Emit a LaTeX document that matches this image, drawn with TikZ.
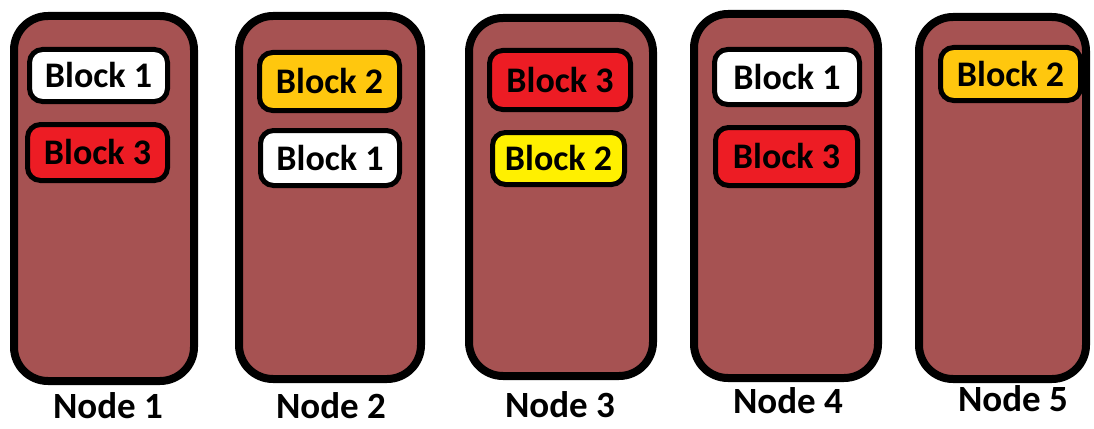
\documentclass[tikz,border=0pt]{standalone}
\usepackage{fontspec}
\setmainfont{Carlito}
\usepackage{tikz}
\usetikzlibrary{positioning}

\definecolor{nodefill}{RGB}{166,82,82}
\definecolor{blkred}{RGB}{237,28,36}
\definecolor{blkgold}{RGB}{255,199,14}
\definecolor{blkyellow}{RGB}{255,240,0}

\begin{document}
\begin{tikzpicture}[x=1pt, y=-1pt,
		server/.style={draw=black, fill=nodefill, line width=8pt, rounded corners=34pt, inner sep=0pt},
		block/.style={draw=black, line width=5pt, rounded corners=13pt, inner sep=0pt, font=\fontsize{36}{40}\selectfont\bfseries},
		label/.style={anchor=base, inner sep=0pt, font=\fontsize{37}{40}\selectfont\bfseries}]
			\useasboundingbox (0,0) rectangle (1094,428);
			% the five machines
			\node[server, minimum width=180pt, minimum height=365pt] (n1) at (104,198.5) {};
			\node[server, minimum width=182pt, minimum height=363pt] (n2) at (330,197.5) {};
			\node[server, minimum width=184pt, minimum height=358pt] (n3) at (561,197) {};
			\node[server, minimum width=184pt, minimum height=364pt] (n4) at (786,196) {};
			\node[server, minimum width=167pt, minimum height=362pt] (n5) at (1002.5,198) {};
			% blocks held by each machine
			\node[block, fill=white, minimum width=138pt, minimum height=52pt] (n1b1) at (98.5,75.5) {Block 1};
			\node[block, fill=blkred, minimum width=140pt, minimum height=56pt] (n1b3) at (97.5,152.5) {Block 3};
			\node[block, fill=blkgold, minimum width=140pt, minimum height=58pt] (n2b2) at (329.5,81.5) {Block 2};
			\node[block, fill=white, minimum width=139pt, minimum height=55pt] (n2b1) at (330,158) {Block 1};
			\node[block, fill=blkred, minimum width=141pt, minimum height=59pt] (n3b3) at (560,80) {Block 3};
			\node[block, fill=blkyellow, minimum width=132pt, minimum height=52pt] (n3b2) at (558.5,158.5) {Block 2};
			\node[block, fill=white, minimum width=145pt, minimum height=55pt] (n4b1) at (787,77) {Block 1};
			\node[block, fill=blkred, minimum width=142pt, minimum height=58pt] (n4b3) at (786.5,156.5) {Block 3};
			\node[block, fill=blkgold, minimum width=140pt, minimum height=53pt] (n5b2) at (1010.5,74) {Block 2};
			% names under the machines
			\node[label] (l1) at (108,418) {Node 1};
			\node[label] (l2) at (331,418) {Node 2};
			\node[label] (l3) at (560,417) {Node 3};
			\node[label] (l4) at (788,413) {Node 4};
			\node[label] (l5) at (1013,411) {Node 5};
		\end{tikzpicture}
\end{document}
